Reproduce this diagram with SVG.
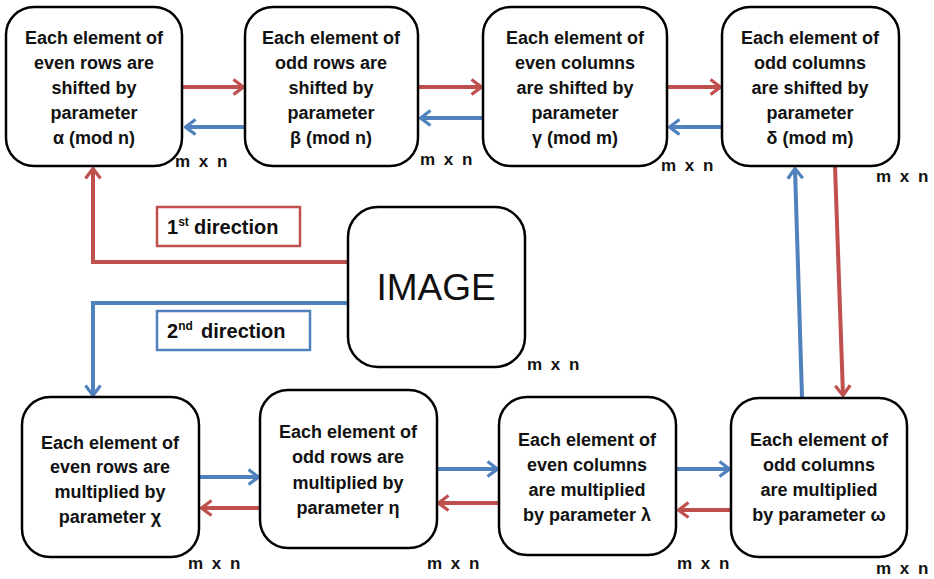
<svg xmlns="http://www.w3.org/2000/svg" width="934" height="579" viewBox="0 0 934 579">
<style>
.box{fill:#fff;stroke:#000;stroke-width:2.5}
.t{font-family:"Liberation Sans",Arial,sans-serif;font-weight:bold;font-size:18px;fill:#111;text-anchor:middle}
.mn{font-family:"Liberation Sans",Arial,sans-serif;font-weight:bold;font-size:17px;fill:#111;word-spacing:4px}
.red{stroke:#c0504d;stroke-width:4;fill:none}
.blue{stroke:#4f81bd;stroke-width:4;fill:none}
.lbl{font-family:"Liberation Sans",Arial,sans-serif;font-weight:bold;font-size:20px;fill:#111}
</style>
<defs>
<marker id="ar" viewBox="0 0 13 18" refX="11" refY="9" markerWidth="13" markerHeight="18" markerUnits="userSpaceOnUse" orient="auto"><path d="M1.5,1.5 L11.5,9 L1.5,16.5" fill="none" stroke="#c0504d" stroke-width="3.2"/></marker>
<marker id="ab" viewBox="0 0 13 18" refX="11" refY="9" markerWidth="13" markerHeight="18" markerUnits="userSpaceOnUse" orient="auto"><path d="M1.5,1.5 L11.5,9 L1.5,16.5" fill="none" stroke="#4f81bd" stroke-width="3.2"/></marker>
</defs>
<rect width="934" height="579" fill="#fff"/>
<g id="connectors">
<path class="red" d="M182,87 H243" marker-end="url(#ar)"/>
<path class="red" d="M418,87 H481" marker-end="url(#ar)"/>
<path class="red" d="M667,87 H720" marker-end="url(#ar)"/>
<path class="blue" d="M245,127 H186" marker-end="url(#ab)"/>
<path class="blue" d="M483,118 H421" marker-end="url(#ab)"/>
<path class="blue" d="M722,127 H670" marker-end="url(#ab)"/>
<path class="blue" d="M802,397 L795,169" marker-end="url(#ab)"/>
<path class="red" d="M835,166 L843,395" marker-end="url(#ar)"/>
<path class="red" d="M348,262 H93 V169" marker-end="url(#ar)"/>
<path class="blue" d="M348,303 H93 V395" marker-end="url(#ab)"/>
<path class="blue" d="M199,477 H258" marker-end="url(#ab)"/>
<path class="red" d="M260,508 H202" marker-end="url(#ar)"/>
<path class="blue" d="M437,469 H497" marker-end="url(#ab)"/>
<path class="red" d="M499,503 H439" marker-end="url(#ar)"/>
<path class="blue" d="M676,469 H729" marker-end="url(#ab)"/>
<path class="red" d="M731,510 H679" marker-end="url(#ar)"/>
</g>
<g id="dir1">
<rect x="157" y="207" width="143" height="39" fill="#fff" stroke="#c0504d" stroke-width="2.5"/>
<text class="lbl" x="167" y="234">1<tspan font-size="12" dy="-8">st</tspan><tspan dy="8" x="194">direction</tspan></text>
</g>
<g id="dir2">
<rect x="157" y="311" width="153" height="39" fill="#fff" stroke="#4f81bd" stroke-width="2.5"/>
<text class="lbl" x="167" y="338">2<tspan font-size="12" dy="-8">nd</tspan><tspan dy="8" x="201">direction</tspan></text>
</g>
<g id="image">
<rect class="box" x="348" y="207" width="177" height="160" rx="30"/>
<text x="436" y="300" font-family="'Liberation Sans',Arial,sans-serif" font-size="37" fill="#111" text-anchor="middle">IMAGE</text>
<text class="mn" x="527" y="370">m x n</text>
</g>
<g id="t1">
<rect class="box" x="6" y="7" width="176" height="159" rx="28"/>
<text class="t" x="94" y="44">Each element of</text>
<text class="t" x="94" y="69">even rows are</text>
<text class="t" x="94" y="94">shifted by</text>
<text class="t" x="94" y="119">parameter</text>
<text class="t" x="94" y="144">α (mod n)</text>
<text class="mn" x="175" y="167">m x n</text>
</g>
<g id="t2">
<rect class="box" x="245" y="7" width="173" height="159" rx="28"/>
<text class="t" x="331" y="44">Each element of</text>
<text class="t" x="331" y="69">odd rows are</text>
<text class="t" x="331" y="94">shifted by</text>
<text class="t" x="331" y="119">parameter</text>
<text class="t" x="331" y="144">β (mod n)</text>
<text class="mn" x="420" y="165">m x n</text>
</g>
<g id="t3">
<rect class="box" x="483" y="7" width="184" height="159" rx="28"/>
<text class="t" x="575" y="44">Each element of</text>
<text class="t" x="575" y="69">even columns</text>
<text class="t" x="575" y="94">are shifted by</text>
<text class="t" x="575" y="119">parameter</text>
<text class="t" x="575" y="144">γ (mod m)</text>
<text class="mn" x="661" y="171">m x n</text>
</g>
<g id="t4">
<rect class="box" x="722" y="7" width="177" height="159" rx="28"/>
<text class="t" x="810" y="44">Each element of</text>
<text class="t" x="810" y="69">odd columns</text>
<text class="t" x="810" y="94">are shifted by</text>
<text class="t" x="810" y="119">parameter</text>
<text class="t" x="810" y="144">δ (mod m)</text>
<text class="mn" x="876" y="182">m x n</text>
</g>
<g id="b1">
<rect class="box" x="22" y="397" width="177" height="160" rx="28"/>
<text class="t" x="110" y="449">Each element of</text>
<text class="t" x="110" y="473">even rows are</text>
<text class="t" x="110" y="498">multiplied by</text>
<text class="t" x="110" y="523">parameter  χ</text>
<text class="mn" x="188" y="569">m x n</text>
</g>
<g id="b2">
<rect class="box" x="260" y="390" width="177" height="158" rx="28"/>
<text class="t" x="348" y="438">Each element of</text>
<text class="t" x="348" y="463">odd rows are</text>
<text class="t" x="348" y="489">multiplied by</text>
<text class="t" x="348" y="514">parameter  η</text>
<text class="mn" x="427" y="569">m x n</text>
</g>
<g id="b3">
<rect class="box" x="499" y="397" width="177" height="158" rx="28"/>
<text class="t" x="587" y="446">Each element of</text>
<text class="t" x="587" y="471">even columns</text>
<text class="t" x="587" y="496">are multiplied</text>
<text class="t" x="587" y="521">by parameter λ</text>
<text class="mn" x="677" y="569">m x n</text>
</g>
<g id="b4">
<rect class="box" x="731" y="398" width="176" height="159" rx="28"/>
<text class="t" x="819" y="446">Each element of</text>
<text class="t" x="819" y="471">odd columns</text>
<text class="t" x="819" y="496">are multiplied</text>
<text class="t" x="819" y="521">by parameter ω</text>
<text class="mn" x="876" y="574">m x n</text>
</g>
</svg>
